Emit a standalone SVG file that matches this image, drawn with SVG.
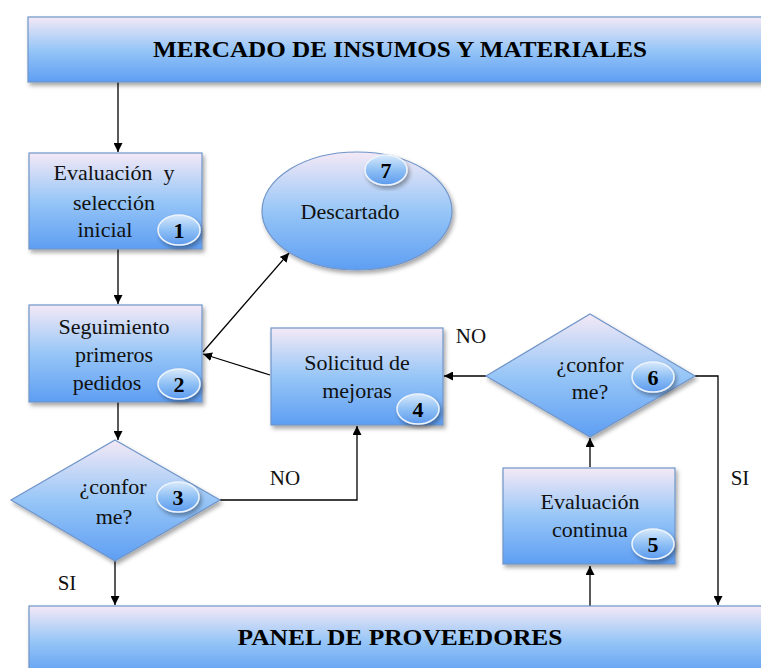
<svg xmlns="http://www.w3.org/2000/svg" width="761" height="668" viewBox="0 0 761 668">
<defs>
<linearGradient id="g" x1="0" y1="0" x2="0" y2="1">
<stop offset="0" stop-color="#f4e9f6"/>
<stop offset="0.5" stop-color="#97c6f7"/>
<stop offset="1" stop-color="#5e9ef3"/>
</linearGradient>
<linearGradient id="gb" x1="0" y1="0" x2="0" y2="1">
<stop offset="0" stop-color="#d8e9fb"/>
<stop offset="0.5" stop-color="#8fc0f5"/>
<stop offset="1" stop-color="#5d9bee"/>
</linearGradient>
<filter id="sh" x="-10%" y="-10%" width="125%" height="130%">
<feDropShadow dx="2" dy="3" stdDeviation="2" flood-color="#000" flood-opacity="0.35"/>
</filter>
<marker id="ar" viewBox="0 0 10 10" refX="10" refY="5" markerWidth="9" markerHeight="9" markerUnits="userSpaceOnUse" orient="auto">
<path d="M0,0 L10,5 L0,10 z" fill="#000"/>
</marker>
</defs>
<style>
.n{fill:url(#g);stroke:#7095c9;stroke-width:1.2;filter:url(#sh)}
.b{fill:url(#gb);stroke:#eef4fc;stroke-width:1.5;filter:url(#sh)}
.t{font-family:"Liberation Serif","Times New Roman","DejaVu Serif",serif;font-size:22px;fill:#111;text-anchor:middle}
.l{font-family:"Liberation Serif","Times New Roman","DejaVu Serif",serif;font-size:21px;fill:#111;text-anchor:middle}
.h{font-family:"Liberation Serif","Times New Roman","DejaVu Serif",serif;font-size:23px;font-weight:bold;fill:#000;text-anchor:middle}
.num{font-family:"Liberation Serif","Times New Roman","DejaVu Serif",serif;font-size:22px;font-weight:bold;fill:#000;text-anchor:middle}
.c{fill:none;stroke:#000;stroke-width:1.3}
</style>
<g id="connectors">
<path class="c" d="M118,82 V152" marker-end="url(#ar)"/>
<path class="c" d="M118,249 V304" marker-end="url(#ar)"/>
<path class="c" d="M118,402 V440" marker-end="url(#ar)"/>
<path class="c" d="M220,500 H357 V426" marker-end="url(#ar)"/>
<path class="c" d="M115,561 V605" marker-end="url(#ar)"/>
<path class="c" d="M270,375 L203,354" marker-end="url(#ar)"/>
<path class="c" d="M203,352 L289,253" marker-end="url(#ar)"/>
<path class="c" d="M486,376 H444" marker-end="url(#ar)"/>
<path class="c" d="M695,376 H718 V605" marker-end="url(#ar)"/>
<path class="c" d="M590,467 V438" marker-end="url(#ar)"/>
<path class="c" d="M590,606 V566" marker-end="url(#ar)"/>
<text class="l" x="285" y="485">NO</text>
<text class="l" x="471" y="343">NO</text>
<text class="l" x="67" y="590">SI</text>
<text class="l" x="740" y="485">SI</text>
</g>
<g id="mercado">
<rect class="n" x="28" y="17" width="745" height="65"/>
<text class="h" x="400" y="57" textLength="494" lengthAdjust="spacingAndGlyphs">MERCADO DE INSUMOS Y MATERIALES</text>
</g>
<g id="n1">
<rect class="n" x="29" y="153" width="173" height="96"/>
<text class="t" x="114" y="180" xml:space="preserve">Evaluación  y</text>
<text class="t" x="114" y="210">selección</text>
<text class="t" x="105" y="237">inicial</text>
<ellipse class="b" cx="179" cy="230" rx="21" ry="15"/>
<text class="num" x="179" y="238">1</text>
</g>
<g id="n2">
<rect class="n" x="29" y="305" width="173" height="97"/>
<text class="t" x="114" y="334">Seguimiento</text>
<text class="t" x="114" y="362">primeros</text>
<text class="t" x="107" y="390">pedidos</text>
<ellipse class="b" cx="179" cy="384" rx="21" ry="15"/>
<text class="num" x="179" y="392">2</text>
</g>
<g id="n3">
<polygon class="n" points="115,440 220,500 115,561 11,500"/>
<text class="t" x="113" y="494">¿confor</text>
<text class="t" x="114" y="524">me?</text>
<ellipse class="b" cx="178" cy="497" rx="21" ry="15"/>
<text class="num" x="178" y="505">3</text>
</g>
<g id="n4">
<rect class="n" x="271" y="328" width="172" height="97"/>
<text class="t" x="357" y="370">Solicitud de</text>
<text class="t" x="357" y="398">mejoras</text>
<ellipse class="b" cx="418" cy="409" rx="21" ry="15"/>
<text class="num" x="418" y="417">4</text>
</g>
<g id="n5">
<rect class="n" x="503" y="468" width="172" height="96"/>
<text class="t" x="590" y="509">Evaluación</text>
<text class="t" x="590" y="537">continua</text>
<ellipse class="b" cx="653" cy="544" rx="21" ry="15"/>
<text class="num" x="653" y="552">5</text>
</g>
<g id="n6">
<polygon class="n" points="590,314 695,376 590,437 486,376"/>
<text class="t" x="590" y="372">¿confor</text>
<text class="t" x="590" y="399">me?</text>
<ellipse class="b" cx="653" cy="377" rx="21" ry="15"/>
<text class="num" x="653" y="385">6</text>
</g>
<g id="n7">
<ellipse class="n" cx="357" cy="211" rx="95" ry="59"/>
<text class="t" x="350" y="219">Descartado</text>
<ellipse class="b" cx="386" cy="170" rx="21" ry="15"/>
<text class="num" x="386" y="178">7</text>
</g>
<g id="panel">
<rect class="n" x="29" y="606" width="745" height="70"/>
<text class="h" x="400" y="645" textLength="325" lengthAdjust="spacingAndGlyphs">PANEL DE PROVEEDORES</text>
</g>
</svg>
